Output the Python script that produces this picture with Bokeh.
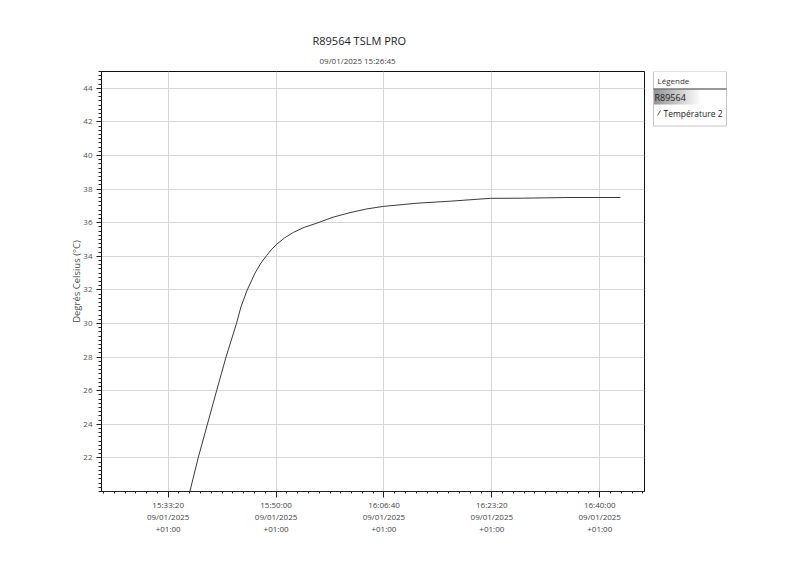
from bokeh.plotting import figure
from bokeh.models import Range1d, FixedTicker, Title
from bokeh.layouts import row
from bokeh.embed import file_html
from bokeh.resources import INLINE
from bokeh.core.properties import value

# ---------------- data ----------------
title_text = "R89564 TSLM PRO"
subtitle_text = "09/01/2025 15:26:45"
y_label = "Degrés Celsius (°C)"
series_name = "Température 2"
logger_name = "R89564"
legend_title = "Légende"

times = ["15:36:15", "15:36:41", "15:37:58", "15:40:49", "15:42:16", "15:43:53",
         "15:44:35", "15:45:33", "15:46:45", "15:47:40", "15:48:33", "15:49:20",
         "15:50:06", "15:51:20", "15:52:40", "15:54:20", "15:56:17", "15:58:50",
         "16:01:26", "16:04:00", "16:06:35", "16:11:45", "16:16:54", "16:23:06",
         "16:28:12", "16:34:57", "16:43:12"]
temps = [19.3, 20.0, 22.0, 26.0, 28.0, 30.0,
         31.0, 32.0, 33.0, 33.6, 34.05, 34.42,
         34.72, 35.1, 35.42, 35.72, 35.97, 36.33,
         36.6, 36.82, 36.97, 37.16, 37.28, 37.45,
         37.46, 37.5, 37.5]

x_tick_times = ["15:33:20", "15:50:00", "16:06:40", "16:23:20", "16:40:00"]
x_tick_date = "09/01/2025"
x_tick_tz = "+01:00"
y_ticks = [22, 24, 26, 28, 30, 32, 34, 36, 38, 40, 42, 44]
x_start, x_end = "15:23:02", "16:46:55"
y_start, y_end = 20, 45


def secs(s):
    h, m, sec = (int(v) for v in s.split(":"))
    return h * 3600 + m * 60 + sec


xs = [secs(t) for t in times]
major = [secs(t) for t in x_tick_times]
minor_x = list(range(secs("15:23:20"), secs("16:46:55"), 100))
minor_y = [y_start + 0.25 * i for i in range(int((y_end - y_start) / 0.25) + 1)]

FONT = "Open Sans"
W_MAIN, H = 648, 549
F_LEFT, F_TOP, F_RIGHT, F_BOTTOM = 101, 71, 644, 491

p = figure(width=W_MAIN, height=H, output_backend="svg", toolbar_location=None,
           x_range=Range1d(secs(x_start), secs(x_end)), y_range=Range1d(y_start, y_end),
           min_border_left=F_LEFT, min_border_right=W_MAIN - F_RIGHT,
           min_border_top=F_TOP, min_border_bottom=H - F_BOTTOM)

p.add_layout(Title(text=subtitle_text, align="left", offset=218, text_font=FONT,
                   text_font_size="8px", text_font_style="normal", text_color="#444",
                   text_line_height=0.55, standoff=11), "above")
p.add_layout(Title(text=title_text, align="left", offset=211, text_font=FONT,
                   text_font_size="11px", text_font_style="normal", text_color="#222",
                   standoff=0), "above")

p.line(xs, temps, line_color="#3a3a3a", line_width=1)

p.outline_line_color = "#111"
p.outline_line_width = 1
p.background_fill_color = "white"
p.border_fill_color = "white"

xa = p.xaxis[0]
xa.ticker = FixedTicker(ticks=major, minor_ticks=minor_x)
xa.major_label_overrides = {m: f"{t}\n{x_tick_date}\n{x_tick_tz}" for m, t in zip(major, x_tick_times)}
xa.major_label_text_font = FONT
xa.major_label_text_font_size = "8px"
xa.major_label_text_color = "#444"
xa.major_label_text_line_height = 1.1
xa.major_label_standoff = 1
xa.major_tick_out = 6
xa.major_tick_in = 0
xa.minor_tick_out = 2
xa.minor_tick_in = 0
xa.axis_line_color = "#222"
xa.major_tick_line_color = "#222"
xa.minor_tick_line_color = "#222"

ya = p.yaxis[0]
ya.ticker = FixedTicker(ticks=y_ticks, minor_ticks=minor_y)
ya.major_label_text_font = FONT
ya.major_label_text_font_size = "8px"
ya.major_label_text_color = "#555"
ya.major_label_standoff = 4
ya.major_tick_out = 5
ya.major_tick_in = 0
ya.minor_tick_out = 3
ya.minor_tick_in = 0
ya.axis_line_color = "#111"
ya.major_tick_line_color = "#222"
ya.minor_tick_line_color = "#222"
ya.axis_label = y_label
ya.axis_label_text_font = FONT
ya.axis_label_text_font_size = "9.5px"
ya.axis_label_text_font_style = "normal"
ya.axis_label_text_color = "#4a4a4a"
ya.axis_label_standoff = -3

p.xgrid.ticker = FixedTicker(ticks=major)
p.ygrid.ticker = FixedTicker(ticks=y_ticks)
p.grid.grid_line_color = "#d6d6d6"
p.grid.grid_line_width = 1

# ---------------- legend panel (image pixel coordinates) ----------------
LX0 = W_MAIN
LW = 90
lg = figure(width=LW, height=H, output_backend="svg", toolbar_location=None,
            x_range=Range1d(LX0, LX0 + LW), y_range=Range1d(F_BOTTOM, F_TOP),
            x_axis_location=None, y_axis_location=None,
            min_border_left=0, min_border_right=0,
            min_border_top=F_TOP, min_border_bottom=H - F_BOTTOM)
lg.grid.visible = False
lg.outline_line_color = None
lg.background_fill_color = "white"
lg.border_fill_color = "white"

bx0, bx1, by0, by1 = 653, 726, 71, 125.5
lg.quad(left=[bx0], right=[bx1], top=[by0], bottom=[by1], fill_color="white",
        line_color="#c4c4c4", line_width=1)
lg.text(x=[657], y=[80], text=[legend_title], text_font=value(FONT), text_font_size="8px",
        text_color="#333", text_baseline="middle")
# gradient band for the logger row
n = 24
gx = [bx0 + 0.5 + i * 2 for i in range(n)]
shades = []
for i in range(n):
    c = int(150 + (255 - 150) * i / (n - 1))
    shades.append(f"#{c:02x}{c:02x}{c:02x}")
lg.quad(left=gx, right=[g + 2 for g in gx], top=[89] * n, bottom=[104] * n,
        fill_color=shades, line_color=None)
lg.segment(x0=[bx0], y0=[88.5], x1=[bx1], y1=[88.5], line_color="#333", line_width=1)
lg.text(x=[654], y=[97], text=[logger_name], text_font=value(FONT), text_font_size="9px",
        text_color="#222", text_baseline="middle")
lg.segment(x0=[657], y0=[115], x1=[660], y1=[110], line_color="#555", line_width=1)
lg.text(x=[663], y=[112.5], text=[series_name], text_font=value(FONT), text_font_size="8.5px",
        text_color="#222", text_baseline="middle")

layout = row(p, lg)
open("out.html", "w").write(file_html(layout, INLINE))
